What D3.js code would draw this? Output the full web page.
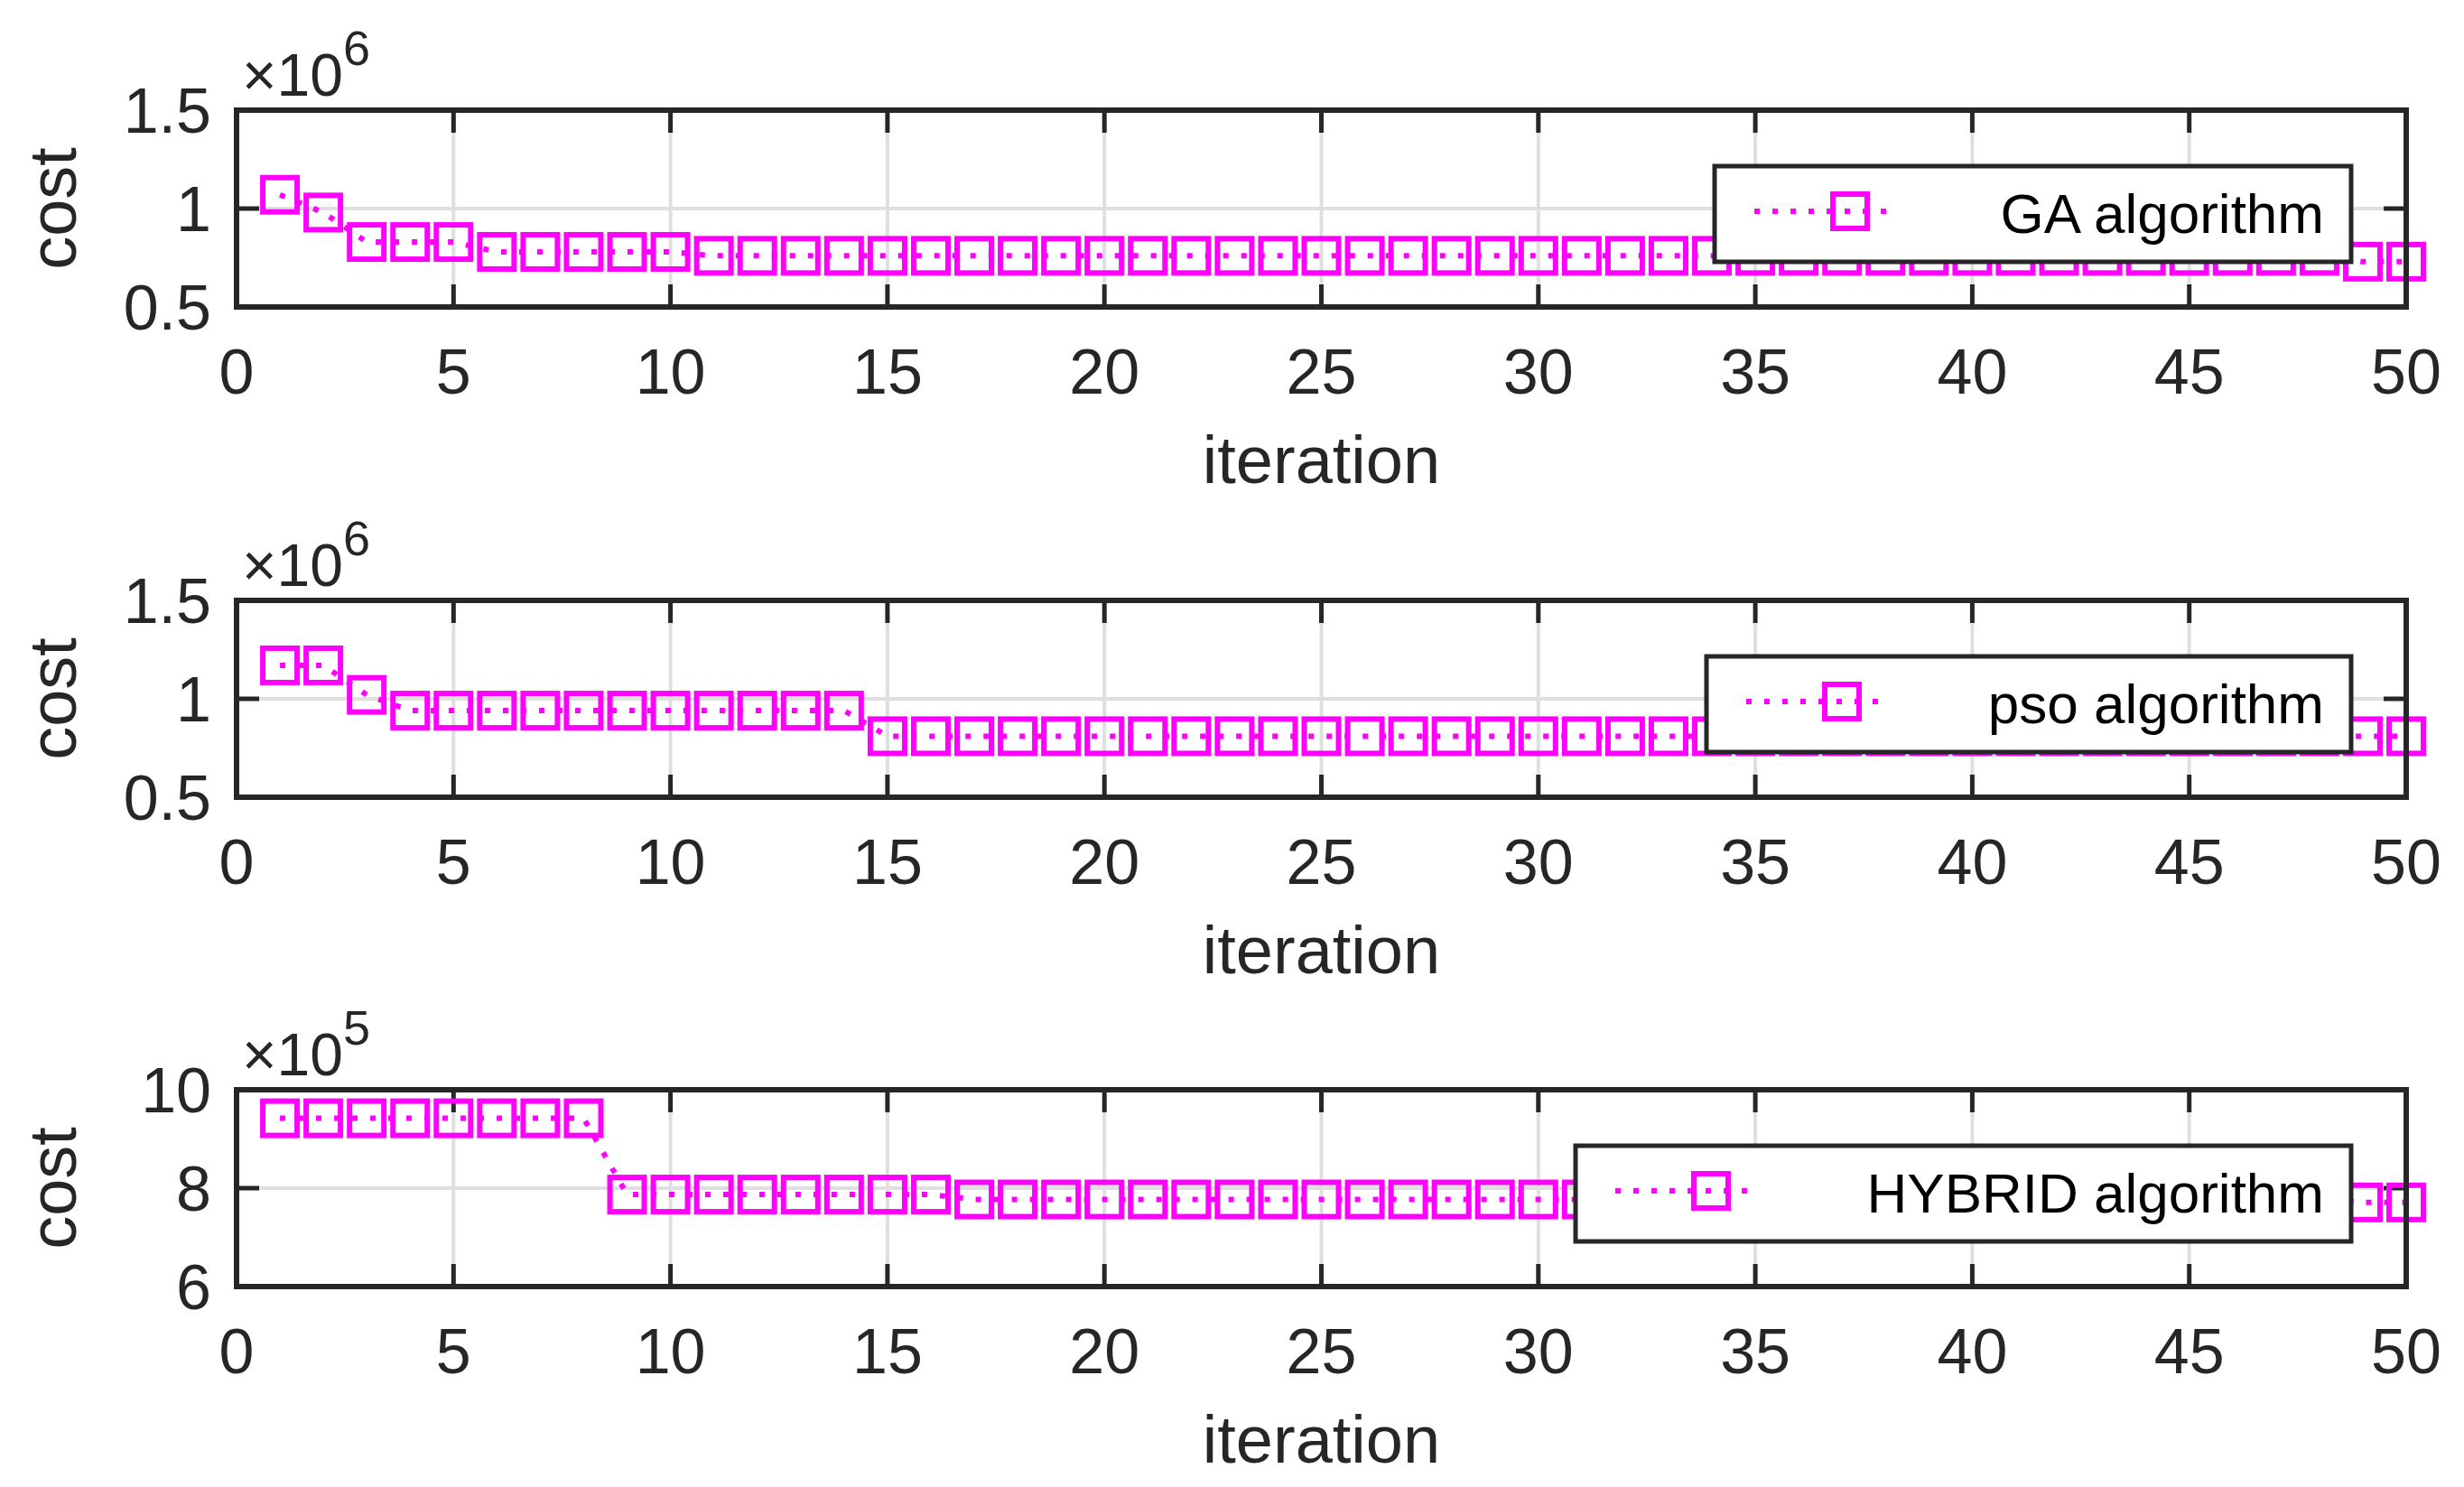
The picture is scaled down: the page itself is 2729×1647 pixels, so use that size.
<!DOCTYPE html>
<html><head><meta charset="utf-8">
<script src="https://cdn.jsdelivr.net/npm/d3@7"></script>
<style>body{margin:0;background:#fff}text{font-family:Arial,"Liberation Sans",sans-serif;fill:#262626}</style>
</head><body><svg width="2729" height="1647"></svg>
<script>
var iterations = d3.range(1, 51);
var gaCost = [1.07,0.98,0.83,0.83,0.83,0.78,0.78,0.78,0.78,0.78].concat(d3.range(38).map(function(){return 0.76;})).concat([0.73,0.73]);
var psoCost = [1.17,1.17,1.02].concat(d3.range(11).map(function(){return 0.94;})).concat(d3.range(36).map(function(){return 0.81;}));
var hybridCost = [9.42,9.42,9.42,9.42,9.42,9.42,9.42,9.42,7.87,7.87,7.87,7.87,7.87,7.87,7.87,7.87].concat(d3.range(32).map(function(){return 7.77;})).concat([7.71,7.71]);
var xTicks = [0,5,10,15,20,25,30,35,40,45,50];

var panels = [
    {data: gaCost, domain: [0.5,1.5], ticks: [0.5,1,1.5], exp: '6', name: 'GA algorithm', top: 122, legX: 1899, legY: 184, legW: 705},
    {data: psoCost, domain: [0.5,1.5], ticks: [0.5,1,1.5], exp: '6', name: 'pso algorithm', top: 665, legX: 1890, legY: 727, legW: 714},
    {data: hybridCost, domain: [6,10], ticks: [6,8,10], exp: '5', name: 'HYBRID algorithm', top: 1207, legX: 1745, legY: 1269, legW: 859}
];

var svg = d3.select('svg');
var left = 262, right = 2665, h = 218;
var x = d3.scaleLinear().domain([0,50]).range([left,right]);
var col = '#ff00ff', ink = '#262626';

function marker(g, cx, cy) {
    g.append('rect').attr('x', cx-19).attr('y', cy-19).attr('width', 38).attr('height', 38)
        .attr('fill', 'none').attr('stroke', col).attr('stroke-width', 6);
}

panels.forEach(function(p) {
    var y = d3.scaleLinear().domain(p.domain).range([p.top+h, p.top]);
    var g = svg.append('g');
    g.selectAll('.gx').data(xTicks.slice(1,-1)).join('line')
        .attr('x1', x).attr('x2', x).attr('y1', p.top).attr('y2', p.top+h)
        .attr('stroke', '#dfdfdf').attr('stroke-width', 4);
    g.selectAll('.gy').data(p.ticks.slice(1,-1)).join('line')
        .attr('x1', left).attr('x2', right).attr('y1', y).attr('y2', y)
        .attr('stroke', '#dfdfdf').attr('stroke-width', 4);
    g.selectAll('.tx').data(xTicks).join('path')
        .attr('d', function(d){return 'M'+x(d)+','+(p.top+h)+'v-25M'+x(d)+','+p.top+'v25';})
        .attr('stroke', ink).attr('stroke-width', 5);
    g.selectAll('.ty').data(p.ticks).join('path')
        .attr('d', function(d){return 'M'+left+','+y(d)+'h25M'+right+','+y(d)+'h-25';})
        .attr('stroke', ink).attr('stroke-width', 5);
    var line = d3.line().x(function(d,i){return x(iterations[i]);}).y(function(d){return y(d);});
    g.append('path').attr('d', line(p.data)).attr('fill', 'none').attr('stroke', col)
        .attr('stroke-width', 6).attr('stroke-dasharray', '6,14');
    p.data.forEach(function(d,i){ marker(g, x(iterations[i]), y(d)); });
    g.append('rect').attr('x', left).attr('y', p.top).attr('width', right-left).attr('height', h)
        .attr('fill', 'none').attr('stroke', ink).attr('stroke-width', 6);
    g.selectAll('.lx').data(xTicks).join('text')
        .attr('x', x).attr('y', p.top+h+96).attr('text-anchor', 'middle')
        .attr('font-size', 70).text(function(d){return d;});
    g.selectAll('.ly').data(p.ticks).join('text')
        .attr('x', left-28).attr('y', function(d){return y(d)+25;}).attr('text-anchor', 'end')
        .attr('font-size', 70).text(function(d){return d;});
    g.append('text').attr('x', x(25)).attr('y', p.top+h+195).attr('text-anchor', 'middle')
        .attr('font-size', 74).text('iteration');
    g.append('text').attr('transform', 'translate(84,'+(p.top+h/2)+') rotate(-90)')
        .attr('text-anchor', 'middle').attr('font-size', 74).text('cost');
    var ex = g.append('text').attr('x', 268).attr('y', p.top-16).attr('font-size', 66);
    ex.append('tspan').text('\u00d710');
    ex.append('tspan').attr('dy', -34).attr('font-size', 54).text(p.exp);
    var lg = svg.append('g');
    lg.append('rect').attr('x', p.legX).attr('y', p.legY).attr('width', p.legW).attr('height', 106)
        .attr('fill', '#fff').attr('stroke', ink).attr('stroke-width', 5);
    var ly = p.legY + 50;
    lg.append('line').attr('x1', p.legX+44).attr('x2', p.legX+204).attr('y1', ly).attr('y2', ly)
        .attr('stroke', col).attr('stroke-width', 6).attr('stroke-dasharray', '6,14');
    marker(lg, p.legX+150, ly);
    lg.append('text').attr('x', p.legX+p.legW-30).attr('y', ly+24).attr('text-anchor', 'end')
        .attr('font-size', 62).style('fill', '#000').text(p.name);
});
</script></body></html>
